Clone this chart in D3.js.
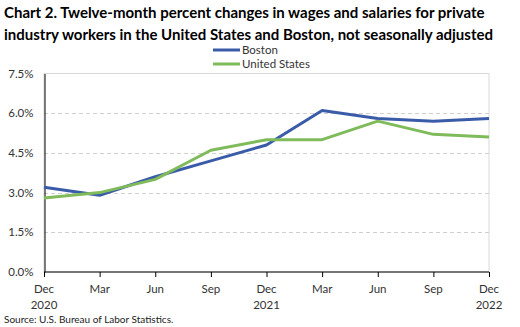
<!DOCTYPE html>
<html>
<head>
<meta charset="utf-8">
<script src="https://cdn.jsdelivr.net/npm/d3@7"></script>
<style>
  body { margin: 0; background: #fff; }
  svg { display: block; font-family: Lato, "Open Sans", sans-serif; }
</style>
</head>
<body>
<div id="chart"></div>
<script>
// chart data
const months = ["Dec", "Mar", "Jun", "Sep", "Dec", "Mar", "Jun", "Sep", "Dec"];
const years = ["2020", "", "", "", "2021", "", "", "", "2022"];
const boston = [3.2, 2.9, 3.6, 4.2, 4.8, 6.1, 5.8, 5.7, 5.8];
const unitedStates = [2.8, 3.0, 3.5, 4.6, 5.0, 5.0, 5.7, 5.2, 5.1];
const yTicks = [0, 1.5, 3.0, 4.5, 6.0, 7.5];
const seriesNames = ["Boston", "United States"];
const seriesColors = ["#3a5ca8", "#80bb5b"];

const width = 520, height = 327;
const margin = {top: 73.5, right: 31, bottom: 55, left: 44};

let svg = d3.select("#chart").append("svg")
    .attr("width", width)
    .attr("height", height);

// title
let title = svg.append("g").attr("font-weight", "bold").attr("font-size", 15).attr("fill", "#000");
title.append("text").attr("x", 4).attr("y", 18)
    .text("Chart 2. Twelve-month percent changes in wages and salaries for private");
title.append("text").attr("x", 4).attr("y", 39.5)
    .text("industry workers in the United States and Boston, not seasonally adjusted");

let x = d3.scalePoint()
    .domain(d3.range(months.length))
    .range([margin.left, width - margin.right]);

let y = d3.scaleLinear()
    .domain([0, 7.5])
    .range([height - margin.bottom, margin.top]);

// plot border
svg.append("rect")
    .attr("x", margin.left).attr("y", margin.top)
    .attr("width", width - margin.right - margin.left)
    .attr("height", y(0) - margin.top)
    .attr("fill", "none").attr("stroke", "#d9d9d9");

// gridlines
svg.append("g").selectAll("line")
    .data(yTicks.filter(d => d > 0 && d < 7.5))
    .enter().append("line")
    .attr("x1", margin.left).attr("x2", width - margin.right)
    .attr("y1", d => Math.round(y(d)) + 0.5).attr("y2", d => Math.round(y(d)) + 0.5)
    .attr("stroke", "#d0d0d0").attr("stroke-dasharray", "4,3");

// y axis
let yAxis = svg.append("g")
    .attr("transform", `translate(${margin.left + 0.5},0)`)
    .call(d3.axisLeft(y).tickValues(yTicks).tickFormat(d => d.toFixed(1) + "%").tickSize(0).tickPadding(11));
yAxis.select(".domain").attr("stroke", "#000");
yAxis.selectAll("text").attr("font-size", 11.5).attr("fill", "#333").attr("font-family", "Lato, sans-serif");

// x axis
let xAxis = svg.append("g")
    .attr("transform", `translate(0,${y(0)})`)
    .call(d3.axisBottom(x).tickSize(5).tickFormat(""));
xAxis.select(".domain").attr("stroke", "#000").attr("d", `M${margin.left},0H${width - margin.right}`);
xAxis.selectAll(".tick line").attr("stroke", "#000");

let xl = svg.append("g").attr("font-size", 11.5).attr("fill", "#333").attr("text-anchor", "middle");
xl.selectAll("text.m").data(months).enter().append("text")
    .attr("x", (d, i) => x(i)).attr("y", 293).text(d => d);
xl.selectAll("text.yr").data(years).enter().append("text")
    .attr("x", (d, i) => x(i)).attr("y", 309).text(d => d);

// lines
let line = d3.line().x((d, i) => x(i)).y(d => y(d));
[boston, unitedStates].forEach((s, k) => {
    svg.append("path")
        .datum(s)
        .attr("d", line)
        .attr("fill", "none")
        .attr("stroke", seriesColors[k])
        .attr("stroke-width", 3)
        .attr("stroke-linejoin", "round");
});

// legend
let legend = svg.append("g");
seriesNames.forEach((n, k) => {
    let ly = 50 + k * 14;
    legend.append("line")
        .attr("x1", 213).attr("x2", 240).attr("y1", ly).attr("y2", ly)
        .attr("stroke", seriesColors[k]).attr("stroke-width", 3);
    legend.append("text")
        .attr("x", 242).attr("y", ly + 4)
        .attr("font-size", 11.5).attr("fill", "#333")
        .text(n);
});

// source
svg.append("text")
    .attr("x", 4).attr("y", 323)
    .attr("font-size", 10).attr("fill", "#222")
    .text("Source: U.S. Bureau of Labor Statistics.");
</script>
</body>
</html>
